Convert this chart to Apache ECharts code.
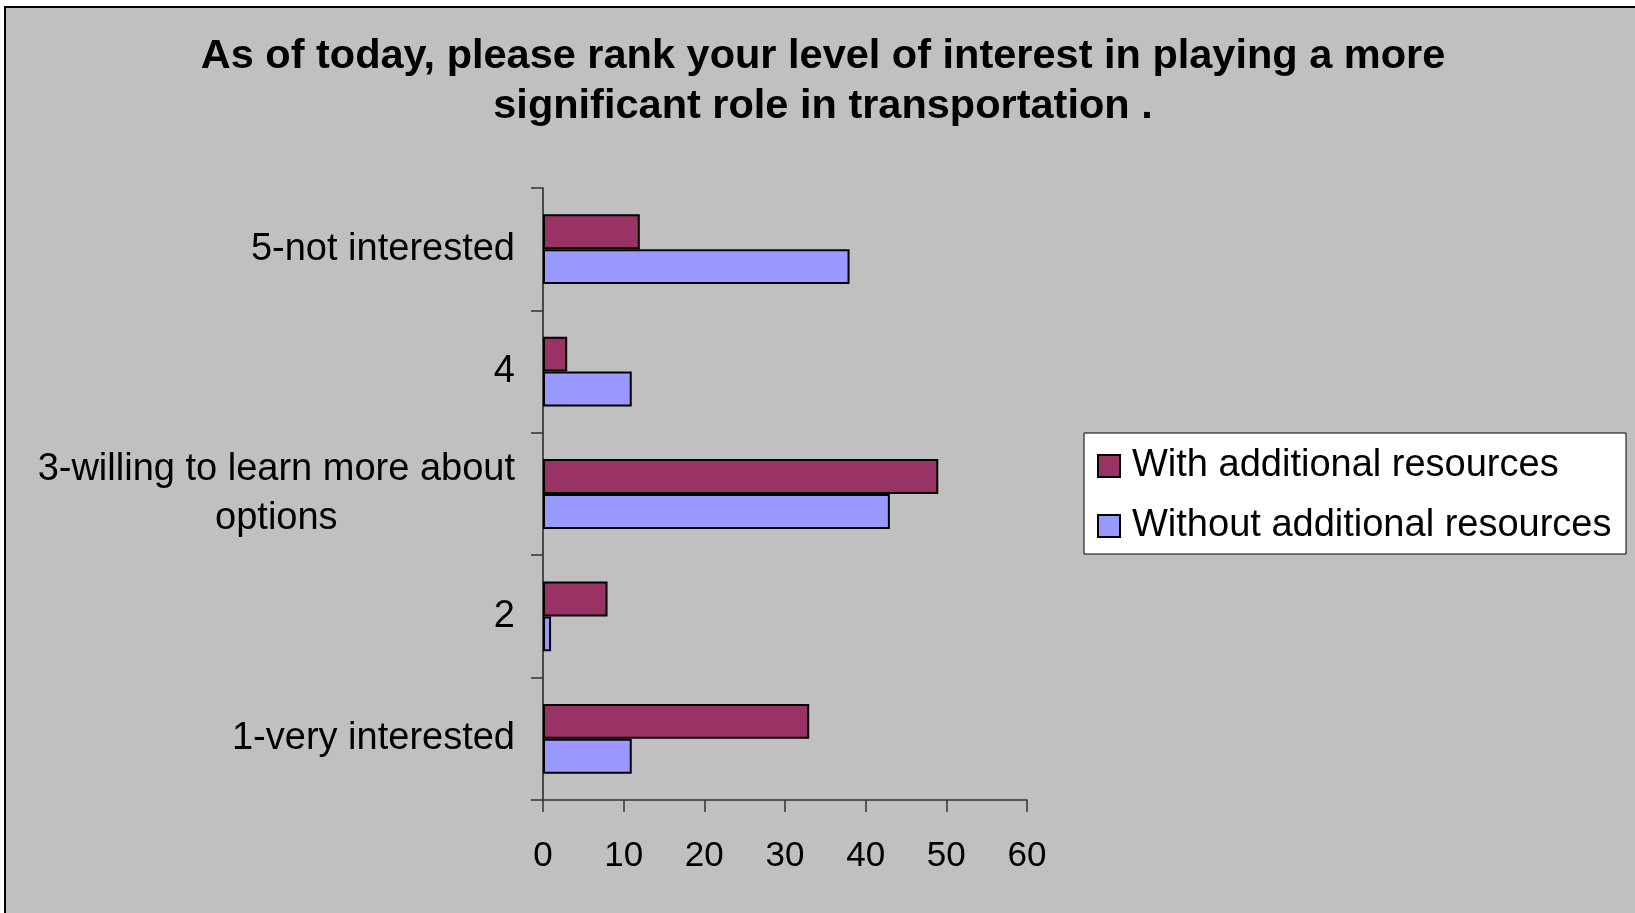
<!DOCTYPE html>
<html>
<head>
<meta charset="utf-8">
<script src="https://cdn.jsdelivr.net/npm/echarts@6/dist/echarts.min.js"></script>
<style>
html,body{margin:0;padding:0;background:#fff;}
#chart{width:1635px;height:913px;}
</style>
</head>
<body>
<div id="chart"></div>
<script>
const categories = ['1-very interested', '2', '3-willing to learn more about\noptions', '4', '5-not interested'];
const withResources = [33, 8, 49, 3, 12];
const withoutResources = [11, 1, 43, 11, 38];
const seriesNames = ['With additional resources', 'Without additional resources'];
const xTicks = { min: 0, max: 60, interval: 10 };
const titleText = 'As of today, please rank your level of interest in playing a more\nsignificant role in transportation .';

const FONT = '"Liberation Sans", Arial, sans-serif';
const chart = echarts.init(document.getElementById('chart'));
chart.setOption({
  backgroundColor: '#ffffff',
  animation: false,
  graphic: [
    { type: 'rect', z: -10, silent: true,
      shape: { x: 5, y: 7, width: 1700, height: 1000 },
      style: { fill: '#C0C0C0', stroke: '#000', lineWidth: 2 } },
    { type: 'rect', z: 1, silent: true,
      shape: { x: 1084, y: 433, width: 542, height: 121 },
      style: { fill: '#ffffff', stroke: '#000', lineWidth: 1 } }
  ],
  title: {
    text: titleText,
    left: 823, top: 32, padding: 0,
    textAlign: 'center',
    textStyle: { fontFamily: FONT, fontSize: 41.5, fontWeight: 'bold', color: '#000', lineHeight: 50 }
  },
  legend: {
    data: seriesNames,
    orient: 'vertical',
    left: 1097, top: 447, padding: 0,
    itemGap: 22,
    itemWidth: 22, itemHeight: 22,
    icon: 'rect',
    z: 5,
    textStyle: { fontFamily: FONT, fontSize: 38, color: '#000', padding: [0, 0, 0, 7] }
  },
  grid: { left: 543, right: 608, top: 188, bottom: 113, containLabel: false },
  xAxis: {
    type: 'value',
    min: xTicks.min, max: xTicks.max, interval: xTicks.interval,
    splitLine: { show: false },
    axisLine: { show: true, lineStyle: { color: '#333', width: 1.5 } },
    axisTick: { show: true, length: 12, lineStyle: { color: '#333', width: 1.5 } },
    axisLabel: { fontFamily: FONT, fontSize: 35, color: '#000', margin: 39 }
  },
  yAxis: {
    type: 'category',
    data: categories,
    axisLine: { show: true, lineStyle: { color: '#222', width: 1.5 } },
    axisTick: { show: true, length: 12, lineStyle: { color: '#333', width: 1.5 } },
    axisLabel: {
      fontFamily: FONT, fontSize: 38, color: '#000', margin: 28, lineHeight: 49, align: 'right',
      formatter: function (v) { return v.split('\n').map(function (s) { return '{c|' + s + '}'; }).join('\n'); },
      rich: { c: { fontFamily: FONT, fontSize: 38, color: '#000', lineHeight: 49, align: 'center' } }
    }
  },
  series: [
    { name: seriesNames[0], type: 'bar', data: withResources,
      barGap: '0%', barCategoryGap: '43%',
      itemStyle: { color: '#993366', borderColor: '#000', borderWidth: 2 } },
    { name: seriesNames[1], type: 'bar', data: withoutResources,
      barGap: '0%', barCategoryGap: '43%',
      itemStyle: { color: '#9999FF', borderColor: '#000', borderWidth: 2 } }
  ]
});
</script>
</body>
</html>
